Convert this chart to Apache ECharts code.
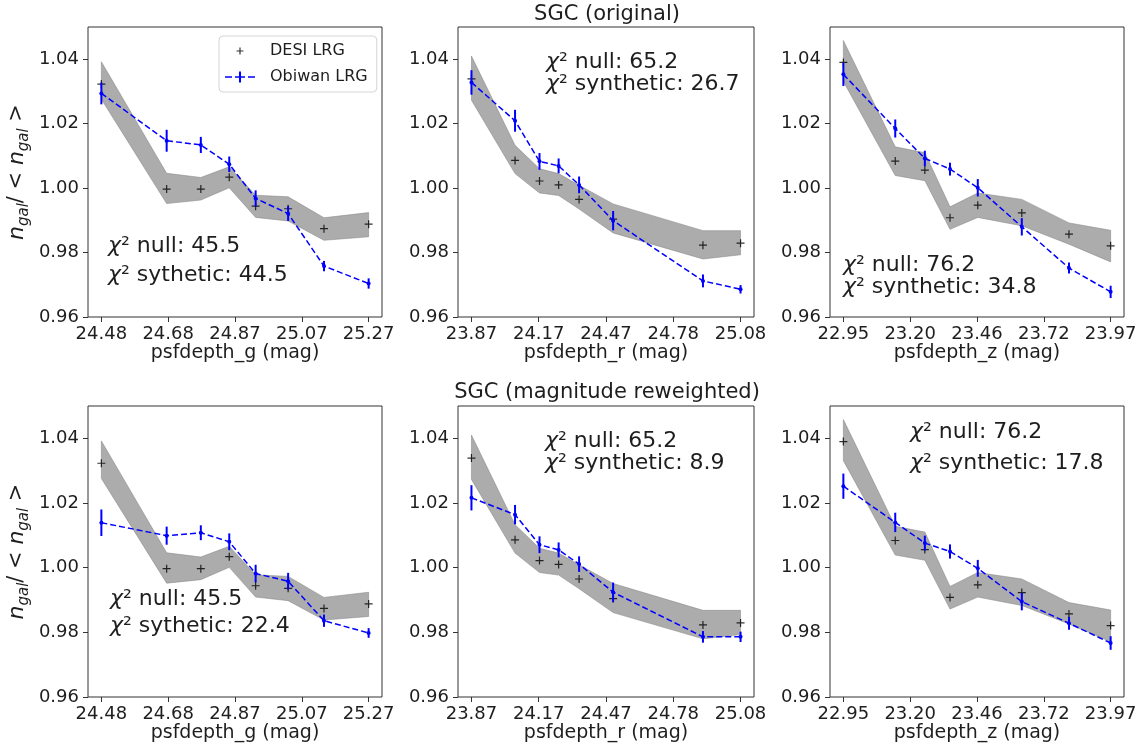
<!DOCTYPE html>
<html>
<head>
<meta charset="utf-8">
<script src="https://cdn.jsdelivr.net/npm/echarts@6/dist/echarts.min.js"></script>
<style>
html,body{margin:0;padding:0;background:#fff;}
#chart{width:1147px;height:751px;}
</style>
</head>
<body>
<div id="chart"></div>
<script>
// ---------------- DATA ----------------
const depthG = [24.48, 24.673, 24.774, 24.858, 24.936, 25.032, 25.138, 25.27];
const depthR = [23.87, 24.066, 24.176, 24.262, 24.354, 24.507, 24.911, 25.08];
const depthZ = [22.95, 23.148, 23.261, 23.357, 23.463, 23.631, 23.811, 23.97];

const tickLabelsG = ['24.48', '24.68', '24.87', '25.07', '25.27'];
const tickLabelsR = ['23.87', '24.17', '24.47', '24.78', '25.08'];
const tickLabelsZ = ['22.95', '23.20', '23.46', '23.72', '23.97'];
const yTicks = [0.96, 0.98, 1.00, 1.02, 1.04];

// DESI LRG (points) and its grey band (lower / upper)
const desiG   = [1.0323, 0.9997, 0.9997, 1.0034, 0.9944, 0.9936, 0.9874, 0.9888];
const desiGLo = [1.0276, 0.9952, 0.9963, 1.0001, 0.9909, 0.9898, 0.9838, 0.9849];
const desiGHi = [1.0392, 1.0046, 1.0033, 1.0066, 0.9978, 0.9973, 0.9908, 0.9924];

const desiR   = [1.0339, 1.0086, 1.0022, 1.0010, 0.9965, 0.9904, 0.9823, 0.9829];
const desiRLo = [1.0273, 1.0045, 0.9985, 0.9977, 0.9935, 0.9861, 0.9780, 0.9793];
const desiRHi = [1.0410, 1.0133, 1.0060, 1.0045, 1.0009, 0.9951, 0.9868, 0.9868];

const desiZ   = [1.0390, 1.0084, 1.0056, 0.9908, 0.9947, 0.9923, 0.9857, 0.9821];
const desiZLo = [1.0331, 1.0039, 1.0023, 0.9872, 0.9909, 0.9883, 0.9826, 0.9771];
const desiZHi = [1.0458, 1.0128, 1.0110, 0.9942, 0.9985, 0.9965, 0.9892, 0.9869];

// Obiwan LRG (original)
const obiGOrig    = [1.0294, 1.0147, 1.0134, 1.0074, 0.9968, 0.9921, 0.9758, 0.9704];
const obiGOrigErr = [0.0034, 0.0034, 0.0025, 0.0024, 0.0025, 0.0023, 0.0016, 0.0016];
const obiROrig    = [1.0328, 1.0209, 1.0083, 1.0069, 1.0010, 0.9899, 0.9712, 0.9686];
const obiROrigErr = [0.0038, 0.0034, 0.0026, 0.0023, 0.0026, 0.0030, 0.0020, 0.0013];
const obiZOrig    = [1.0353, 1.0185, 1.0092, 1.0059, 1.0001, 0.9880, 0.9752, 0.9678];
const obiZOrigErr = [0.0036, 0.0028, 0.0024, 0.0020, 0.0027, 0.0027, 0.0017, 0.0019];

// Obiwan LRG (magnitude reweighted)
const obiGRew    = [1.0139, 1.0099, 1.0108, 1.0080, 0.9982, 0.9958, 0.9836, 0.9798];
const obiGRewErr = [0.0041, 0.0028, 0.0023, 0.0026, 0.0027, 0.0026, 0.0019, 0.0015];
const obiRRew    = [1.0216, 1.0164, 1.0071, 1.0055, 1.0011, 0.9924, 0.9786, 0.9786];
const obiRRewErr = [0.0039, 0.0030, 0.0026, 0.0023, 0.0024, 0.0030, 0.0018, 0.0016];
const obiZRew    = [1.0252, 1.0140, 1.0076, 1.0050, 0.9998, 0.9895, 0.9828, 0.9767];
const obiZRewErr = [0.0039, 0.0030, 0.0023, 0.0022, 0.0026, 0.0027, 0.0020, 0.0021];

const chiNull  = ['45.5', '65.2', '76.2', '45.5', '65.2', '76.2'];
const chiSynth = ['44.5', '26.7', '34.8', '22.4', '8.9', '17.8'];
const chiWord  = ['sythetic', 'synthetic', 'synthetic', 'sythetic', 'synthetic', 'synthetic'];
const xNames   = ['psfdepth_g (mag)', 'psfdepth_r (mag)', 'psfdepth_z (mag)'];
const rowTitles = ['SGC (original)', 'SGC (magnitude reweighted)'];

// ---------------- LAYOUT ----------------
const FONT = 'DejaVu Sans';
const TXT = '#1e1e1e';
const FRAME = '#333';
const BLUE = '#0000ff';

const bands = [
  {x: depthG, d: desiG, lo: desiGLo, hi: desiGHi, ticks: tickLabelsG},
  {x: depthR, d: desiR, lo: desiRLo, hi: desiRHi, ticks: tickLabelsR},
  {x: depthZ, d: desiZ, lo: desiZLo, hi: desiZHi, ticks: tickLabelsZ}
];
const obi = [
  [obiGOrig, obiGOrigErr], [obiROrig, obiROrigErr], [obiZOrig, obiZOrigErr],
  [obiGRew, obiGRewErr], [obiRRew, obiRRewErr], [obiZRew, obiZRewErr]
];

const colLeft = [88, 458, 830];
const colWidth = [294, 296, 294];
const rowTop = [27, 406];
const rowHeight = [290, 291];
const nameGapRow = [27, 22];

// chi^2 annotation placement (pixel positions of text)
const notePos = [
  {x: 108, y1: 246, y2: 275},
  {x: 546, y1: 62, y2: 84},
  {x: 843, y1: 265, y2: 287},
  {x: 110, y1: 599, y2: 626},
  {x: 545, y1: 441, y2: 463},
  {x: 910, y1: 432, y2: 463}
];

const plusSymbol = 'path://M0,3.4h8v1.2h-8z M3.4,0h1.2v8h-1.2z';
const legendPlus = 'path://M0,0h0.01v0.01h-0.01z M39.99,13.99h0.01v0.01h-0.01z M11.5,6.4h7v1.2h-7z M14.4,3.5h1.2v7h-1.2z';
const legendObi = 'path://M0,0h0.01v0.01h-0.01z M39.99,13.99h0.01v0.01h-0.01z M0,6.3h7v1.5h-7z M10,6.3h10v1.5h-10z M23,6.3h7v1.5h-7z M14,1.5h2v11h-2z';

function linspace(a, b, n) {
  const out = [];
  for (let i = 0; i < n; i++) out.push(a + (b - a) * i / (n - 1));
  return out;
}

const grids = [], xAxes = [], yAxes = [], series = [], graphics = [];

for (let p = 0; p < 6; p++) {
  const row = Math.floor(p / 3), col = p % 3;
  const b = bands[col];
  grids.push({
    left: colLeft[col], top: rowTop[row], width: colWidth[col], height: rowHeight[row],
    show: true, borderColor: FRAME, borderWidth: 1, backgroundColor: 'transparent'
  });
  const xr = b.x[b.x.length - 1] - b.x[0];
  const tickVals = linspace(parseFloat(b.ticks[0]), parseFloat(b.ticks[b.ticks.length - 1]), b.ticks.length);
  xAxes.push({
    gridIndex: p, type: 'value',
    min: b.x[0] - 0.05 * xr, max: b.x[b.x.length - 1] + 0.05 * xr,
    axisLine: {show: false},
    splitLine: {show: false},
    axisTick: {show: true, customValues: tickVals, length: 5, lineStyle: {color: FRAME, width: 1}},
    axisLabel: {
      customValues: tickVals, margin: 8,
      fontSize: 18, fontFamily: FONT, color: TXT,
      formatter: function (v) {
        let best = 0, bd = Infinity;
        tickVals.forEach((t, i) => { const dd = Math.abs(t - v); if (dd < bd) { bd = dd; best = i; } });
        return b.ticks[best];
      }
    },
    name: xNames[col], nameLocation: 'middle', nameGap: nameGapRow[row],
    nameTextStyle: {fontSize: 19, fontFamily: FONT, color: TXT}
  });
  const yAx = {
    gridIndex: p, type: 'value', min: 0.96, max: 1.05,
    axisLine: {show: false},
    splitLine: {show: false},
    axisTick: {show: true, customValues: yTicks, length: 5, lineStyle: {color: FRAME, width: 1}},
    axisLabel: {
      customValues: yTicks, margin: 9,
      fontSize: 18, fontFamily: FONT, color: TXT,
      formatter: v => v.toFixed(2)
    }
  };
  if (col === 0) {
    yAx.name = '{i|n}{s|gal}{t|/ < }{i|n}{s|gal}{t| >}';
    yAx.nameLocation = 'middle';
    yAx.nameRotate = 90;
    yAx.nameGap = 56;
    yAx.nameTextStyle = {
      fontFamily: FONT, color: TXT, fontSize: 21,
      rich: {
        i: {fontSize: 22, fontStyle: 'italic', fontFamily: FONT, color: TXT, lineHeight: 30, verticalAlign: 'middle'},
        s: {fontSize: 15, fontStyle: 'italic', fontFamily: FONT, color: TXT, lineHeight: 30, verticalAlign: 'bottom'},
        t: {fontSize: 21, fontFamily: FONT, color: TXT, lineHeight: 30, verticalAlign: 'middle'}
      }
    };
  }
  yAxes.push(yAx);

  // grey band
  series.push({
    type: 'custom', name: 'band', xAxisIndex: p, yAxisIndex: p, z: 1, silent: true,
    data: b.x.map((xv, i) => [xv, b.lo[i], b.hi[i]]),
    renderItem: function (params, api) {
      if (params.dataIndex !== 0) return null;
      const up = b.x.map((xv, i) => api.coord([xv, b.hi[i]]));
      const dn = b.x.map((xv, i) => api.coord([xv, b.lo[i]])).reverse();
      return {
        type: 'polygon', shape: {points: up.concat(dn)},
        style: {fill: 'rgba(128,128,128,0.65)', stroke: 'rgba(128,128,128,0.5)', lineWidth: 1}
      };
    }
  });
  // DESI points
  series.push({
    type: 'scatter', name: 'DESI LRG', xAxisIndex: p, yAxisIndex: p, z: 3,
    symbol: plusSymbol, symbolSize: 8,
    itemStyle: {color: '#000'},
    data: b.x.map((xv, i) => [xv, b.d[i]])
  });
  // Obiwan error bars
  const ov = obi[p][0], oe = obi[p][1];
  series.push({
    type: 'custom', name: 'Obiwan err', xAxisIndex: p, yAxisIndex: p, z: 4, silent: true,
    data: b.x.map((xv, i) => [xv, ov[i], oe[i]]),
    renderItem: function (params, api) {
      const x = api.value(0), y = api.value(1), e = api.value(2);
      const a = api.coord([x, y - e]), c = api.coord([x, y + e]);
      return {type: 'line', shape: {x1: a[0], y1: a[1], x2: c[0], y2: c[1]}, style: {stroke: BLUE, lineWidth: 2}};
    }
  });
  // Obiwan line
  series.push({
    type: 'line', name: 'Obiwan LRG', xAxisIndex: p, yAxisIndex: p, z: 5,
    symbol: 'circle', symbolSize: 4, showSymbol: true,
    itemStyle: {color: BLUE},
    lineStyle: {color: BLUE, width: 1.5, type: [6, 3]},
    data: b.x.map((xv, i) => [xv, ov[i]])
  });

  // chi^2 annotations
  const np = notePos[p];
  const rich = {c: {fontStyle: 'italic', fontSize: 22, fontFamily: FONT, fill: TXT}};
  graphics.push({
    type: 'text', x: np.x, y: np.y1, z: 10,
    style: {text: '{c|χ}² null: ' + chiNull[p], rich: rich, fontSize: 22, fontFamily: FONT, fill: TXT, align: 'left', verticalAlign: 'middle'}
  });
  graphics.push({
    type: 'text', x: np.x, y: np.y2, z: 10,
    style: {text: '{c|χ}² ' + chiWord[p] + ': ' + chiSynth[p], rich: rich, fontSize: 22, fontFamily: FONT, fill: TXT, align: 'left', verticalAlign: 'middle'}
  });
}

graphics.push({type: 'text', x: 607, y: 15, style: {text: rowTitles[0], fontSize: 21, fontFamily: FONT, fill: TXT, align: 'center', verticalAlign: 'middle'}});
graphics.push({type: 'text', x: 607, y: 393, style: {text: rowTitles[1], fontSize: 21, fontFamily: FONT, fill: TXT, align: 'center', verticalAlign: 'middle'}});

const option = {
  animation: false,
  backgroundColor: '#fff',
  grid: grids,
  xAxis: xAxes,
  yAxis: yAxes,
  series: series,
  graphic: graphics,
  legend: {
    left: 219, top: 36, orient: 'vertical',
    itemWidth: 40, itemHeight: 14, itemGap: 10,
    padding: [7, 9, 7, 6],
    borderColor: '#d5d5d5', borderWidth: 1, borderRadius: 4,
    backgroundColor: 'rgba(255,255,255,0.85)',
    selectedMode: false,
    itemStyle: {borderWidth: 0},
    textStyle: {fontSize: 16, fontFamily: FONT, color: TXT},
    data: [
      {name: 'DESI LRG', icon: legendPlus, itemStyle: {color: '#000'}},
      {name: 'Obiwan LRG', icon: legendObi, itemStyle: {color: BLUE}}
    ]
  }
};

const chart = echarts.init(document.getElementById('chart'), null, {renderer: 'canvas'});
chart.setOption(option);
</script>
</body>
</html>
